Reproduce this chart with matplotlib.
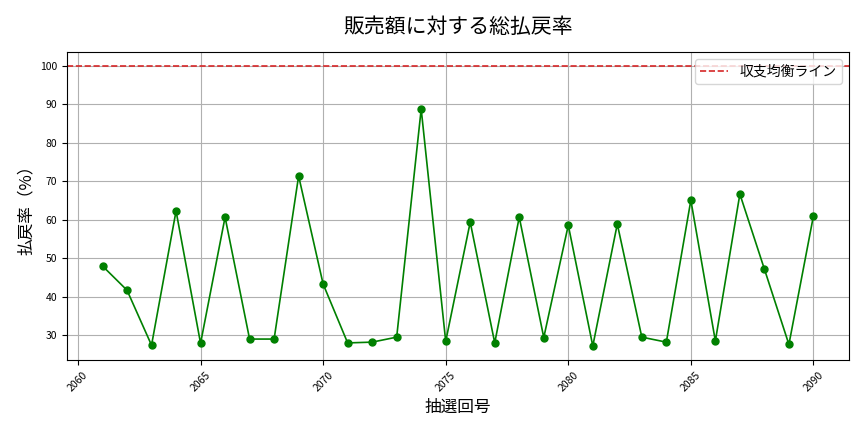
import matplotlib
matplotlib.use('Agg')
import matplotlib.pyplot as plt

plt.rcParams['font.family'] = ['Noto Sans CJK JP', 'DejaVu Sans']

draws = list(range(2061, 2091))
payout = [48.0, 41.7, 27.4, 62.3, 27.9, 60.7, 29.0, 29.0, 71.4, 43.3,
          28.0, 28.2, 29.5, 88.8, 28.4, 59.4, 28.0, 60.7, 29.4, 58.6,
          27.2, 58.9, 29.5, 28.2, 65.1, 28.5, 66.7, 47.2, 27.6, 61.0]
breakeven = 100

fig, ax = plt.subplots(figsize=(8.64, 4.32), dpi=100)
ax.plot(draws, payout, marker='o', color='green', linewidth=1.2, markersize=5)
ax.axhline(breakeven, color='#d62728', linestyle='--', linewidth=1.2,
           label='収支均衡ライン')
ax.set_title('販売額に対する総払戻率', fontsize=15, pad=14)
ax.set_xlabel('抽選回号', fontsize=12)
ax.set_ylabel('払戻率（%）', fontsize=12)
ax.tick_params(axis='x', labelrotation=45, labelsize=7.5)
ax.tick_params(axis='y', labelsize=7.5)
ax.grid(True)
ax.legend(loc='upper right', fontsize=10)
fig.subplots_adjust(left=0.0775, right=0.9826, top=0.8796, bottom=0.1667)
fig.savefig('out.png')
